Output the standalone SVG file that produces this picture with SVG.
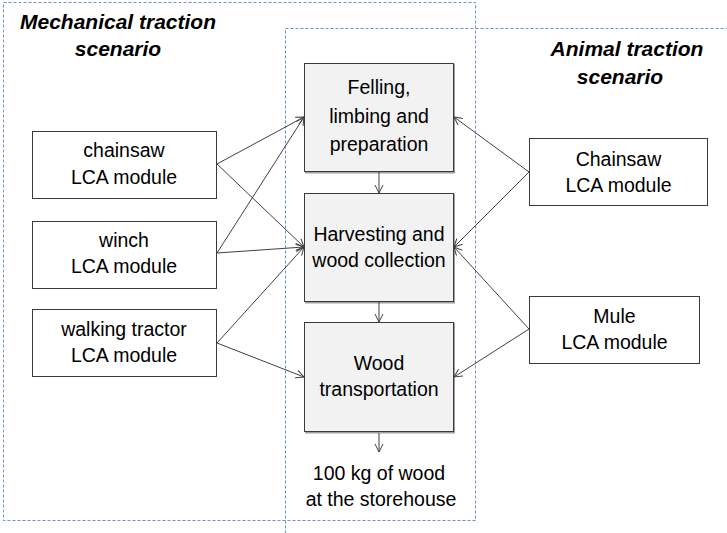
<svg xmlns="http://www.w3.org/2000/svg" width="727" height="533" viewBox="0 0 727 533">
<defs>
<marker id="ah" markerUnits="userSpaceOnUse" markerWidth="10" markerHeight="10" refX="9" refY="4.5" orient="auto">
<path d="M1,0.5 L9,4.5 L1,8.5" fill="none" stroke="#404040" stroke-width="1"/>
</marker>
<style>
.t{font-family:"Liberation Sans",Arial,sans-serif;font-size:19.5px;fill:#000;text-anchor:middle}
.h{font-family:"Liberation Sans",Arial,sans-serif;font-size:21px;font-weight:bold;font-style:italic;fill:#000;text-anchor:middle}
.dash{fill:none;stroke:#6f8fbf;stroke-width:1;stroke-dasharray:3,2}
.box{fill:#fff;stroke:#3a3a3a;stroke-width:1}
.pbox{fill:#f2f2f2;stroke:#3a3a3a;stroke-width:1}
.sh{fill:#a0a0a0;stroke:none}
.c{stroke:#404040;stroke-width:1;fill:none;marker-end:url(#ah)}
</style>
</defs>
<rect width="727" height="533" fill="#fff"/>
<g id="mechanical-scenario">
<rect class="dash" x="3.5" y="2.5" width="472" height="518"/>
<text class="h" x="118" y="29">Mechanical traction</text>
<text class="h" x="118" y="56">scenario</text>
</g>
<g id="animal-scenario">
<rect class="dash" x="285.5" y="28.5" width="470" height="530"/>
<text class="h" x="627" y="56">Animal traction</text>
<text class="h" x="620" y="84">scenario</text>
</g>
<g id="felling">
<rect class="sh" x="305" y="64" width="150" height="109.5"/>
<rect class="pbox" x="304.5" y="63.5" width="149" height="108"/>
<text class="t" x="379" y="94">Felling,</text>
<text class="t" x="379" y="123">limbing and</text>
<text class="t" x="379" y="151">preparation</text>
</g>
<g id="harvesting">
<rect class="sh" x="305" y="194" width="150" height="109.5"/>
<rect class="pbox" x="304.5" y="193.5" width="149" height="108"/>
<text class="t" x="379" y="241">Harvesting and</text>
<text class="t" x="379" y="267">wood collection</text>
</g>
<g id="transportation">
<rect class="sh" x="305" y="323" width="150" height="110.5"/>
<rect class="pbox" x="304.5" y="322.5" width="149" height="109"/>
<text class="t" x="379" y="370">Wood</text>
<text class="t" x="379" y="396">transportation</text>
</g>
<g id="output">
<text class="t" x="379" y="480">100 kg of wood</text>
<text class="t" x="381" y="506">at the storehouse</text>
</g>
<g id="chainsaw-mech">
<rect class="box" x="32.5" y="131.5" width="184" height="67"/>
<text class="t" x="124" y="157">chainsaw</text>
<text class="t" x="124" y="184">LCA module</text>
</g>
<g id="winch">
<rect class="box" x="32.5" y="221.5" width="184" height="67"/>
<text class="t" x="124" y="247">winch</text>
<text class="t" x="124" y="273">LCA module</text>
</g>
<g id="walking-tractor">
<rect class="box" x="32.5" y="309.5" width="184" height="67"/>
<text class="t" x="124" y="336">walking tractor</text>
<text class="t" x="124" y="362">LCA module</text>
</g>
<g id="chainsaw-animal">
<rect class="box" x="529.5" y="138.5" width="178" height="67"/>
<text class="t" x="618.5" y="166">Chainsaw</text>
<text class="t" x="618.5" y="192">LCA module</text>
</g>
<g id="mule">
<rect class="box" x="529.5" y="296.5" width="170" height="67"/>
<text class="t" x="614.5" y="323">Mule</text>
<text class="t" x="614.5" y="349">LCA module</text>
</g>
<g id="connectors">
<line class="c" x1="217" y1="164" x2="304" y2="117"/>
<line class="c" x1="217" y1="164" x2="304" y2="247"/>
<line class="c" x1="217" y1="253" x2="304" y2="117"/>
<line class="c" x1="217" y1="253" x2="304" y2="247"/>
<line class="c" x1="217" y1="343" x2="304" y2="247"/>
<line class="c" x1="217" y1="343" x2="304" y2="377"/>
<line class="c" x1="529" y1="172" x2="454" y2="117"/>
<line class="c" x1="529" y1="172" x2="454" y2="247"/>
<line class="c" x1="529" y1="329" x2="454" y2="247"/>
<line class="c" x1="529" y1="329" x2="454" y2="377"/>
<line class="c" x1="379" y1="172" x2="379" y2="193"/>
<line class="c" x1="379" y1="302" x2="379" y2="322"/>
<line class="c" x1="379" y1="433" x2="379" y2="452"/>
</g>
</svg>
